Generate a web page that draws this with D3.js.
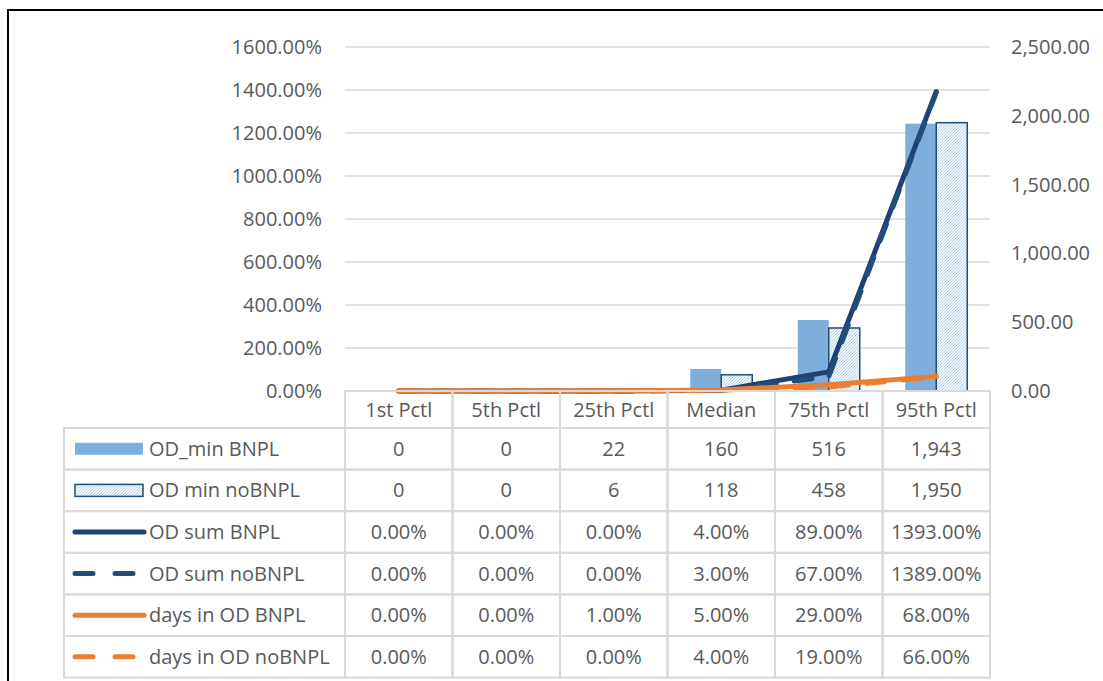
<!DOCTYPE html>
<html>
<head>
<meta charset="utf-8">
<title>OD chart</title>
<style>
  body { margin: 0; background: #fff; }
  svg { display: block; }
  text { font-family: "Open Sans", sans-serif; font-size: 20px; fill: #595959; }
  .grid line { stroke: #d9d9d9; stroke-width: 1.5px; }
  .cell { fill: none; stroke: #d9d9d9; stroke-width: 2px; }
</style>
</head>
<body>
<div class="viz"></div>
<script src="https://cdnjs.cloudflare.com/ajax/libs/d3/7.8.5/d3.min.js"></script>
<script>
var categories = ["1st Pctl", "5th Pctl", "25th Pctl", "Median", "75th Pctl", "95th Pctl"];
var odMinBnpl = [0, 0, 22, 160, 516, 1943];
var odMinNoBnpl = [0, 0, 6, 118, 458, 1950];
var odSumBnpl = [0, 0, 0, 4, 89, 1393];
var odSumNoBnpl = [0, 0, 0, 3, 67, 1389];
var daysBnpl = [0, 0, 1, 5, 29, 68];
var daysNoBnpl = [0, 0, 0, 4, 19, 66];
var leftTicks = [0, 200, 400, 600, 800, 1000, 1200, 1400, 1600];
var rightTicks = [0, 500, 1000, 1500, 2000, 2500];
var seriesNames = ["OD_min BNPL", "OD min noBNPL", "OD sum BNPL", "OD sum noBNPL", "days in OD BNPL", "days in OD noBNPL"];

var width = 1103, height = 681;
var plotLeft = 345, plotRight = 990, plotTop = 47, plotBottom = 391;
var tableLeft = 64, rowH = 41.6, headerBottom = 428;

var svg = d3.select(".viz").append("svg")
    .attr("width", width)
    .attr("height", height);

var defs = svg.append("defs");
var pat = defs.append("pattern")
    .attr("id", "hatch")
    .attr("patternUnits", "userSpaceOnUse")
    .attr("width", 3).attr("height", 3);
pat.append("rect").attr("width", 3).attr("height", 3).attr("fill", "#f2f7fc");
pat.append("path").attr("d", "M-1,1 l2,-2 M0,3 l3,-3 M2,4 l2,-2")
    .attr("stroke", "#a6c8ea").attr("stroke-width", 0.8);

// outer frame
svg.append("path")
    .attr("d", "M8," + (height + 5) + " V10 H" + (width + 5))
    .attr("fill", "none").attr("stroke", "#000").attr("stroke-width", 2);

var x = d3.scaleBand().domain(categories).range([plotLeft, plotRight]);
var xBar = d3.scaleBand().domain([0, 1]).range([0, 62]);
var yL = d3.scaleLinear().domain([0, 1600]).range([plotBottom, plotTop]);
var yR = d3.scaleLinear().domain([0, 2500]).range([plotBottom, plotTop]);
function cx(c) { return x(c) + x.bandwidth() / 2; }

// gridlines
svg.append("g").attr("class", "grid")
    .selectAll("line").data(leftTicks.slice(1)).enter().append("line")
    .attr("x1", plotLeft).attr("x2", plotRight)
    .attr("y1", function (d) { return yL(d); })
    .attr("y2", function (d) { return yL(d); });

// axes
var axL = svg.append("g")
    .attr("transform", "translate(322,0)")
    .call(d3.axisLeft(yL).tickValues(leftTicks).tickSize(0).tickPadding(0)
        .tickFormat(function (d) { return d3.format(".2f")(d) + "%"; }));
axL.select(".domain").remove();
var axR = svg.append("g")
    .attr("transform", "translate(1011,0)")
    .call(d3.axisRight(yR).tickValues(rightTicks).tickSize(0).tickPadding(0)
        .tickFormat(d3.format(",.2f")));
axR.select(".domain").remove();
svg.selectAll(".tick text")
    .attr("fill", "#595959")
    .style("font-family", "'Open Sans', sans-serif")
    .style("font-size", "20px");

// bars
var bars = svg.append("g");
bars.selectAll(".b1").data(odMinBnpl).enter().append("rect")
    .attr("x", function (d, i) { return cx(categories[i]) - 31 + xBar(0); })
    .attr("width", xBar.bandwidth())
    .attr("y", function (d) { return yR(d); })
    .attr("height", function (d) { return plotBottom - yR(d); })
    .attr("fill", "#7eaedc");
bars.selectAll(".b2").data(odMinNoBnpl).enter().append("rect")
    .attr("x", function (d, i) { return cx(categories[i]) - 31 + xBar(1); })
    .attr("width", xBar.bandwidth())
    .attr("y", function (d) { return yR(d); })
    .attr("height", function (d) { return plotBottom - yR(d); })
    .attr("fill", "url(#hatch)")
    .attr("stroke", function (d) { return d > 0 ? "#1f4e79" : "none"; })
    .attr("stroke-width", 1.5);

// lines
var line = d3.line()
    .x(function (d, i) { return cx(categories[i]); })
    .y(function (d) { return yL(d); });
var lineStyles = [
    { data: odSumBnpl, color: "#203f78", dash: null },
    { data: odSumNoBnpl, color: "#1f4e79", dash: "18,18" },
    { data: daysBnpl, color: "#ed7d31", dash: null },
    { data: daysNoBnpl, color: "#ed7d31", dash: "18,18" }
];
lineStyles.forEach(function (s) {
    svg.append("path")
        .datum(s.data)
        .attr("d", line)
        .attr("fill", "none")
        .attr("stroke", s.color)
        .attr("stroke-width", 5)
        .attr("stroke-linejoin", "round")
        .attr("stroke-linecap", "round")
        .attr("stroke-dasharray", s.dash);
});

// data table
var table = svg.append("g");
var pct = function (d) { return d3.format(".2f")(d) + "%"; };
var rows = [
    odMinBnpl.map(d3.format(",.0f")),
    odMinNoBnpl.map(d3.format(",.0f")),
    odSumBnpl.map(pct),
    odSumNoBnpl.map(pct),
    daysBnpl.map(pct),
    daysNoBnpl.map(pct)
];

// header cells
categories.forEach(function (c) {
    table.append("rect").attr("class", "cell")
        .attr("x", x(c)).attr("y", plotBottom)
        .attr("width", x.bandwidth()).attr("height", headerBottom - plotBottom);
    table.append("text")
        .attr("x", cx(c)).attr("y", (plotBottom + headerBottom) / 2)
        .attr("dy", "0.35em").attr("text-anchor", "middle")
        .text(c);
});

rows.forEach(function (r, ri) {
    var y0 = headerBottom + ri * rowH;
    var ym = y0 + rowH / 2;
    table.append("rect").attr("class", "cell")
        .attr("x", tableLeft).attr("y", y0)
        .attr("width", plotLeft - tableLeft).attr("height", rowH);
    r.forEach(function (v, ci) {
        table.append("rect").attr("class", "cell")
            .attr("x", x(categories[ci])).attr("y", y0)
            .attr("width", x.bandwidth()).attr("height", rowH);
        table.append("text")
            .attr("x", cx(categories[ci])).attr("y", ym)
            .attr("dy", "0.35em").attr("text-anchor", "middle")
            .text(v);
    });
    // legend keys
    if (ri === 0) {
        table.append("rect").attr("x", 75).attr("y", ym - 6)
            .attr("width", 68).attr("height", 12).attr("fill", "#7eaedc");
    } else if (ri === 1) {
        table.append("rect").attr("x", 75).attr("y", ym - 6)
            .attr("width", 68).attr("height", 12).attr("fill", "url(#hatch)")
            .attr("stroke", "#1f4e79").attr("stroke-width", 1.5);
    } else {
        var s = lineStyles[ri - 2];
        table.append("line")
            .attr("x1", 75).attr("x2", 144).attr("y1", ym).attr("y2", ym)
            .attr("stroke", s.color).attr("stroke-width", 5)
            .attr("stroke-linecap", "round")
            .attr("stroke-dasharray", s.dash ? "18,22" : null);
    }
    table.append("text")
        .attr("x", 149).attr("y", ym).attr("dy", "0.35em")
        .text(seriesNames[ri]);
});
</script>
</body>
</html>
